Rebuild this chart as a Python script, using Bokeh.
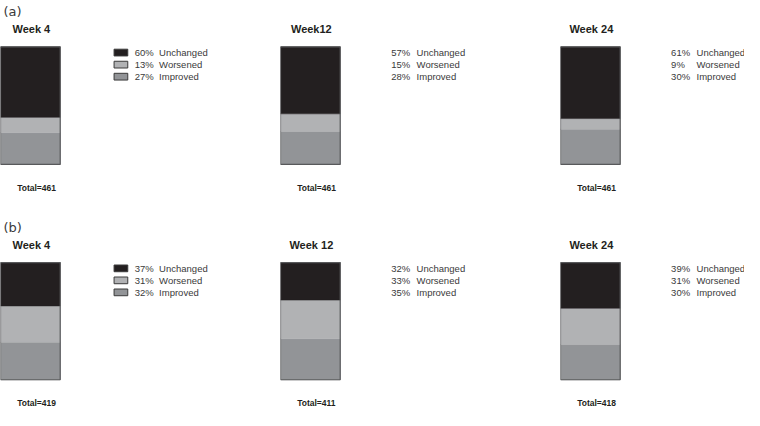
from bokeh.plotting import figure
from bokeh.layouts import column, row
from bokeh.models import Range1d, ColumnDataSource
from bokeh.embed import file_html
from bokeh.resources import INLINE
from bokeh.core.properties import value

# ---------------- data ----------------
panel_labels = ["(a)", "(b)"]
categories = ["Unchanged", "Worsened", "Improved"]

weeks_a = ["Week 4", "Week12", "Week 24"]
unchanged_a = [60, 57, 61]
worsened_a = [13, 15, 9]
improved_a = [27, 28, 30]
totals_a = [461, 461, 461]

weeks_b = ["Week 4", "Week 12", "Week 24"]
unchanged_b = [37, 32, 39]
worsened_b = [31, 33, 31]
improved_b = [32, 35, 30]
totals_b = [419, 411, 418]

# ---------------- styles / layout ----------------
colors = {"Unchanged": "#231f20", "Worsened": "#b1b2b4", "Improved": "#929497"}
FONT = value("Liberation Sans")

col_w = [286, 286, 188]      # reference units
row_h = [224, 202]
widths = [280, 280, 184]     # screen px
heights = [216, 194]

BAR_X, BAR_W = 30.5, 61
BAR_TOP, BAR_BOT = 48, 170
K = (BAR_BOT - BAR_TOP) / 100.0


def yp(ref_y):
    return (BAR_BOT - ref_y) / K


def make_panel(r, c, week, unch, wors, impr, total):
    p = figure(width=widths[c], height=heights[r],
               x_range=Range1d(0, col_w[c]),
               y_range=Range1d(yp(row_h[r]), yp(0)),
               output_backend="svg", toolbar_location=None,
               min_border=0, x_axis_location=None, y_axis_location=None)
    p.grid.visible = False
    p.outline_line_color = None

    src = ColumnDataSource(dict(x=[BAR_X], Improved=[impr], Worsened=[wors], Unchanged=[unch]))
    stack = ["Improved", "Worsened", "Unchanged"]
    p.vbar_stack(stack, x="x", width=BAR_W, source=src,
                 color=[colors[s] for s in stack], line_width=0.5)
    p.vbar(x=[BAR_X], bottom=[0], top=[impr + wors + unch], width=BAR_W,
           fill_color=None, line_color="#58595b", line_width=1.2)

    # title
    p.text(x=[BAR_X + 1], y=[yp(30)], text=[week], text_font=FONT,
           text_font_size="11px", text_font_style="bold",
           text_align="center", text_baseline="middle", text_color="#231f20")
    # total
    p.text(x=[17], y=[yp(194)], text=[f"Total={total}"], text_font=FONT,
           text_font_size="8.5px", text_font_style="bold",
           text_align="left", text_baseline="middle", text_color="#231f20")

    vals = [unch, wors, impr]
    ys = [yp(54), yp(66.5), yp(79)]
    if c == 0:
        px_num, px_lab = 137, 162
        p.rect(x=[123] * 3, y=ys, width=14, height=7 / K,
               fill_color=[colors[k] for k in categories],
               line_color="#3a3a3a", line_width=1)
    else:
        px_num, px_lab = 113, 139
    p.text(x=[px_num] * 3, y=ys, text=[f"{v}%" for v in vals], text_font=FONT,
           text_font_size="9.5px", text_align="left", text_baseline="middle",
           text_color="#3a3a3a")
    p.text(x=[px_lab] * 3, y=ys, text=categories, text_font=FONT,
           text_font_size="9.5px", text_align="left", text_baseline="middle",
           text_color="#3a3a3a")

    if c == 0:
        p.text(x=[3], y=[yp(11)], text=[panel_labels[r]], text_font=value("DejaVu Sans"),
               text_font_size="13px", text_align="left", text_baseline="middle",
               text_color="#3a3a3a")
    return p


rows = []
for r, (weeks, un, wo, im, tot) in enumerate([
        (weeks_a, unchanged_a, worsened_a, improved_a, totals_a),
        (weeks_b, unchanged_b, worsened_b, improved_b, totals_b)]):
    panels = [make_panel(r, c, weeks[c], un[c], wo[c], im[c], tot[c]) for c in range(3)]
    rows.append(row(*panels, spacing=0))

layout = column(*rows, spacing=0)

open("out.html", "w").write(file_html(layout, INLINE))
